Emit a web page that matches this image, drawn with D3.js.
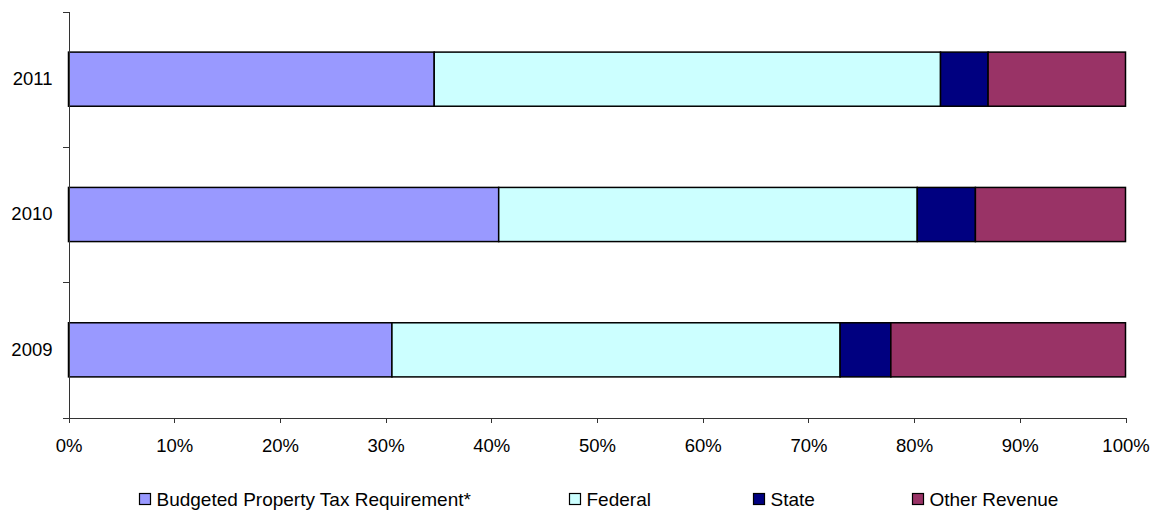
<!DOCTYPE html>
<html>
<head>
<meta charset="utf-8">
<script src="https://cdn.jsdelivr.net/npm/d3@7"></script>
<style>
  html, body { margin: 0; padding: 0; background: #fff; }
  svg { display: block; }
  text { font-family: "Liberation Sans", Arial, sans-serif; }
</style>
</head>
<body>
<svg id="chart" width="1154" height="510"></svg>
<script>
// ---- data ----
const years = ["2011", "2010", "2009"];
const seriesNames = ["Budgeted Property Tax Requirement*", "Federal", "State", "Other Revenue"];
const propertyTax = [34.6, 40.7, 30.6];
const federal     = [47.9, 39.6, 42.4];
const state       = [4.5, 5.5, 4.8];
const otherRev    = [13.0, 14.2, 22.2];
const xTicks = [0, 10, 20, 30, 40, 50, 60, 70, 80, 90, 100];
const colors = ["#9999FF", "#CCFFFF", "#000080", "#993366"];

// ---- build table ----
const keys = ["p", "f", "s", "o"];
const rows = years.map((y, i) => {
  const tot = propertyTax[i] + federal[i] + state[i] + otherRev[i];
  return { year: y, p: propertyTax[i] / tot, f: federal[i] / tot, s: state[i] / tot, o: otherRev[i] / tot };
});
const stacked = d3.stack().keys(keys)(rows);

const svg = d3.select("#chart");
const x = d3.scaleLinear().domain([0, 1]).range([68.5, 1125.5]);
const y = d3.scaleBand().domain(years).range([11.5, 417.5]).paddingInner(0.6).paddingOuter(0.3);
const yLin = d3.scaleLinear().domain([0, years.length]).range([417.5, 11.5]);
const FS = 18.5;

// bars
stacked.forEach((layer, li) => {
  svg.append("g").selectAll("rect").data(layer).join("rect")
    .attr("x", d => x(d[0]))
    .attr("y", d => y(d.data.year))
    .attr("width", d => x(d[1]) - x(d[0]))
    .attr("height", y.bandwidth())
    .attr("fill", colors[li])
    .attr("stroke", "#000")
    .attr("stroke-width", 1.5);
});

// x axis
const xAxis = svg.append("g").attr("transform", "translate(0,417.5)")
  .call(d3.axisBottom(x).tickValues(xTicks.map(v => v / 100)).tickFormat(d => Math.round(d * 100) + "%").tickSize(5).tickSizeOuter(0).tickPadding(16));
xAxis.select(".domain").attr("stroke", "#333").attr("shape-rendering", "crispEdges");
xAxis.selectAll(".tick line").attr("stroke", "#333").attr("shape-rendering", "crispEdges");
xAxis.selectAll("text").attr("font-size", FS).attr("fill", "#000").attr("font-family", "Liberation Sans, Arial, sans-serif");

// y axis (ticks between categories)
const yAxis = svg.append("g").attr("transform", "translate(68.5,0)")
  .call(d3.axisLeft(yLin).tickValues(d3.range(years.length + 1)).tickFormat("").tickSize(6).tickSizeOuter(0));
yAxis.select(".domain").attr("stroke", "#333").attr("shape-rendering", "crispEdges");
yAxis.selectAll(".tick line").attr("stroke", "#333").attr("shape-rendering", "crispEdges");

// y labels
const yLab = svg.append("g").attr("transform", "translate(68.5,0)")
  .call(d3.axisLeft(y).tickSize(0).tickPadding(16));
yLab.select(".domain").remove();
yLab.selectAll("text").attr("font-size", FS).attr("fill", "#000").attr("font-family", "Liberation Sans, Arial, sans-serif");

// legend
const legX = [139, 569, 753, 912];
const leg = svg.append("g");
seriesNames.forEach((name, i) => {
  const g = leg.append("g").attr("transform", `translate(${legX[i]},493)`);
  g.append("rect").attr("x", 0.5).attr("y", 0.5).attr("width", 11).attr("height", 11)
    .attr("fill", colors[i]).attr("stroke", "#000").attr("stroke-width", 1.2);
  g.append("text").attr("x", 17.5).attr("y", 12.5).attr("font-size", 19).attr("fill", "#000").text(name);
});
</script>
</body>
</html>
